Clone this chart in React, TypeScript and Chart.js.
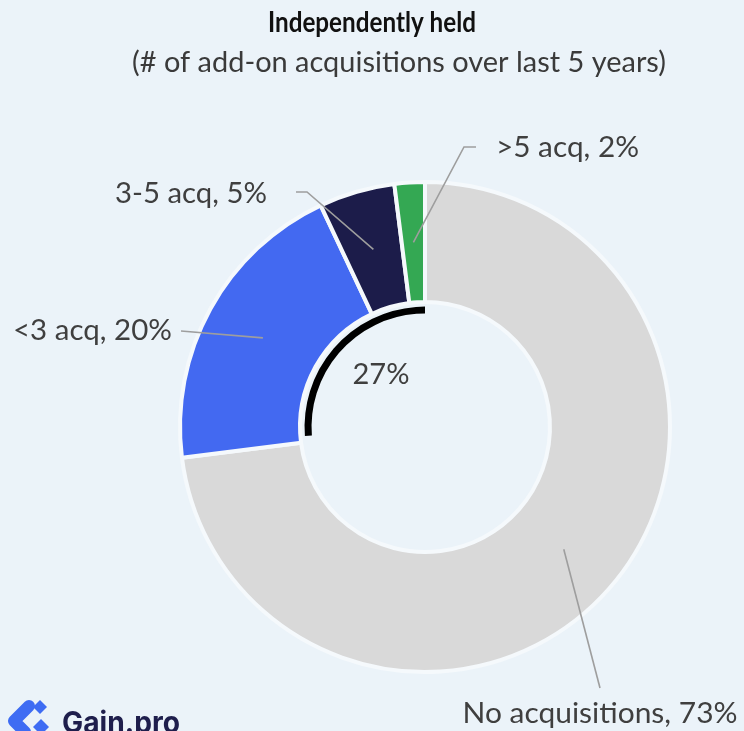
import React, { useEffect, useRef } from "react";
import { Chart, registerables } from "chart.js";

Chart.register(...registerables);

// ---------- data ----------
const categories = ["No acquisitions", "<3 acq", "3-5 acq", ">5 acq"];
const shares = [73, 20, 5, 2];
const sliceColors = ["#d9d9d9", "#4369f1", "#1c1c4a", "#34a853"];
const titleText = "Independently held";
const subtitleText = "(# of add-on acquisitions over last 5 years)";
const centerLabel = "27%";
const logoText = "Gain.pro";

// ---------- layout of annotations (offsets from donut centre) ----------
type LabelLayout = {
  elbow: [number, number] | null;
  end: [number, number];
  text: [number, number]; // x anchor, baseline y
  align: CanvasTextAlign;
  width: number;
};
const labelLayout: LabelLayout[] = [
  { elbow: null, end: [175, 261], text: [175, 296], align: "center", width: 275 },
  { elbow: null, end: [-244, -96], text: [-253, -87], align: "right", width: 159 },
  { elbow: [-118, -235], end: [-129, -235], text: [-158, -224], align: "right", width: 152 },
  { elbow: [39, -280], end: [51, -280], text: [71, -270], align: "left", width: 143 },
];

const BG = "#ebf3f9";
const FAMILY = "Lato, 'Noto Sans', sans-serif";

// draws text at a given font size, squeezing horizontally toward the target width
function drawText(
  ctx: CanvasRenderingContext2D,
  text: string,
  x: number,
  y: number,
  align: CanvasTextAlign,
  weight: string,
  size: number,
  family: string,
  targetWidth: number
) {
  ctx.save();
  ctx.font = `${weight} ${size}px ${family}`;
  const w = ctx.measureText(text).width;
  let sx = targetWidth / w;
  sx = Math.max(0.81, Math.min(1.15, sx));
  ctx.translate(x, y);
  ctx.scale(sx, 1);
  ctx.textAlign = align;
  ctx.textBaseline = "alphabetic";
  ctx.fillText(text, 0, 0);
  ctx.restore();
}

const overlayPlugin = {
  id: "overlay",
  beforeDraw(chart: any) {
    const ctx = chart.ctx as CanvasRenderingContext2D;
    ctx.save();
    ctx.fillStyle = BG;
    ctx.fillRect(0, 0, chart.width, chart.height);
    ctx.restore();
  },
  afterDatasetsDraw(chart: any) {
    const ctx = chart.ctx as CanvasRenderingContext2D;
    const meta = chart.getDatasetMeta(0);
    const arcs = meta.data as any[];
    if (!arcs.length) return;
    const { x: cx, y: cy, innerRadius } = arcs[0].getProps(
      ["x", "y", "innerRadius", "outerRadius"],
      true
    );

    ctx.save();
    // black arc marking the acquiring share
    const start = arcs[1].startAngle + 0.05;
    const end = arcs[arcs.length - 1].endAngle;
    ctx.beginPath();
    ctx.arc(cx, cy, innerRadius - 8, start, end);
    ctx.lineWidth = 7;
    ctx.strokeStyle = "#000000";
    ctx.lineCap = "butt";
    ctx.stroke();

    // centre label
    ctx.fillStyle = "#3f3f3f";
    drawText(ctx, centerLabel, cx - 44, cy - 43, "center", "400", 28, FAMILY, 57);

    // leader lines + labels
    arcs.forEach((arc, i) => {
      const lay = labelLayout[i];
      const p = arc.getCenterPoint(true);
      ctx.beginPath();
      ctx.moveTo(p.x, p.y);
      if (lay.elbow) ctx.lineTo(cx + lay.elbow[0], cy + lay.elbow[1]);
      ctx.lineTo(cx + lay.end[0], cy + lay.end[1]);
      ctx.lineWidth = 1.6;
      ctx.strokeStyle = "#9e9e9e";
      ctx.stroke();

      const label = `${categories[i]}, ${shares[i]}%`;
      ctx.fillStyle = "#3f3f3f";
      drawText(ctx, label, cx + lay.text[0], cy + lay.text[1], lay.align, "400", 28, FAMILY, lay.width);
    });

    // title & subtitle
    ctx.fillStyle = "#111111";
    drawText(ctx, titleText, 372, 32, "center", "700", 28, FAMILY, 208);
    ctx.fillStyle = "#3a3a3a";
    drawText(ctx, subtitleText, 399, 72, "center", "400", 28, FAMILY, 534);

    // logo
    ctx.fillStyle = "#3e6cf3";
    ctx.strokeStyle = "#3e6cf3";
    const diamond = (x: number, y: number, r: number) => {
      ctx.beginPath();
      ctx.moveTo(x, y - r);
      ctx.lineTo(x + r, y);
      ctx.lineTo(x, y + r);
      ctx.lineTo(x - r, y);
      ctx.closePath();
      ctx.fill();
    };
    diamond(40, 707, 7);
    diamond(41, 727, 8);
    ctx.beginPath();
    ctx.moveTo(29, 706);
    ctx.lineTo(14, 721);
    ctx.lineTo(25, 732);
    ctx.lineWidth = 12;
    ctx.lineJoin = "round";
    ctx.lineCap = "round";
    ctx.stroke();

    ctx.fillStyle = "#1e1e4c";
    drawText(ctx, logoText, 62, 733, "left", "700", 30, "Inter, Lato, sans-serif", 118);
    ctx.restore();
  },
};

export default function App() {
  const ref = useRef<HTMLCanvasElement | null>(null);

  useEffect(() => {
    if (!ref.current) return;
    const chart = new Chart(ref.current, {
      type: "doughnut",
      data: {
        labels: categories,
        datasets: [
          {
            data: shares,
            backgroundColor: sliceColors,
            borderColor: "#f5f9fc",
            borderWidth: 4,
            hoverOffset: 0,
          },
        ],
      },
      options: {
        responsive: false,
        maintainAspectRatio: false,
        animation: false,
        devicePixelRatio: 1,
        events: [],
        cutout: "51%",
        layout: { padding: { left: 178, right: 72, top: 180, bottom: 57 } },
        plugins: {
          legend: { display: false },
          tooltip: { enabled: false },
          title: { display: false },
        },
      },
      plugins: [overlayPlugin],
    });
    return () => chart.destroy();
  }, []);

  return (
    <div
      style={{
        position: "fixed",
        left: 0,
        top: 0,
        width: 744,
        height: 731,
        background: BG,
        overflow: "hidden",
      }}
    >
      <canvas ref={ref} width={744} height={731} style={{ display: "block", width: 744, height: 731 }} />
    </div>
  );
}
